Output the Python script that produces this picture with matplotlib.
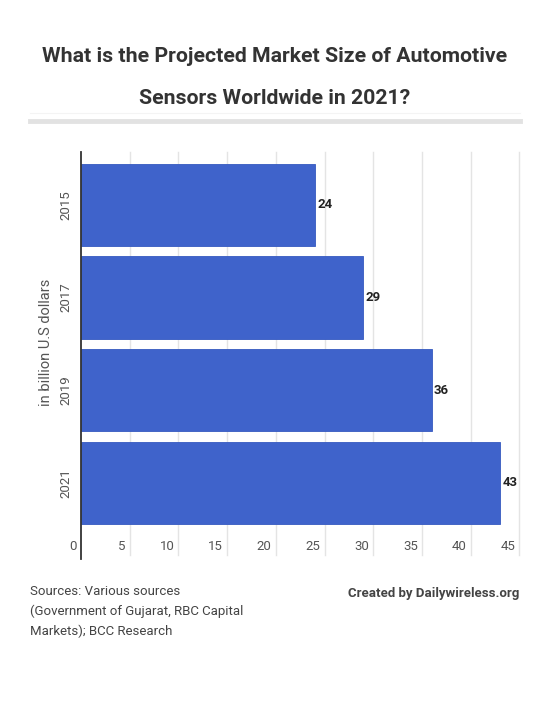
import matplotlib.pyplot as plt
import matplotlib.transforms as mtransforms
from matplotlib.lines import Line2D

# datos del grafico
years = ["2015", "2017", "2019", "2021"]
values = [24, 29, 36, 43]
xticks = [0, 5, 10, 15, 20, 25, 30, 35, 40, 45]

plt.rcParams['font.family'] = ['Roboto', 'DejaVu Sans']

fig = plt.figure(figsize=(5.5, 7.02), dpi=100)
fig.patch.set_facecolor('white')

# titulo
fig.text(0.5, 1 - 56 / 702, "What is the Projected Market Size of Automotive",
         ha='center', va='center', fontsize=15.3, fontweight='bold', color='#333333')
fig.text(0.5, 1 - 99 / 702, "Sensors Worldwide in 2021?",
         ha='center', va='center', fontsize=15.3, fontweight='bold', color='#333333')

# barra gris separadora
fig.add_artist(Line2D([30 / 550, 520 / 550], [1 - 121 / 702, 1 - 121 / 702],
                      color='#e2e2e2', linewidth=3.5, transform=fig.transFigure))
fig.add_artist(Line2D([30 / 550, 520 / 550], [1 - 113 / 702, 1 - 113 / 702],
                      color='#f4f4f4', linewidth=0.8, transform=fig.transFigure))

ax = fig.add_axes([81 / 550, 1 - 532 / 702, (519.3 - 81) / 550, 380 / 702])
pos = list(range(len(years)))
ax.barh(pos, values, height=0.89, color='#3F63CB', edgecolor='#3559c0',
        linewidth=0.6, zorder=3)
ax.set_xlim(0, 45)
ax.set_ylim(3.53, -0.57)

for s in ax.spines.values():
    s.set_visible(False)

# lineas de la cuadricula
for x in xticks[1:]:
    ax.axvline(x, ymin=-0.06, ymax=1, color='#e4e4e4', linewidth=1,
               clip_on=False, zorder=1)
ax.axvline(0, ymin=-0.07, ymax=1, color='#333333', linewidth=1.3,
           clip_on=False, zorder=4)

ax.set_xticks(xticks)
ax.set_xticklabels([str(x) for x in xticks])
ax.tick_params(axis='x', length=0, pad=6, labelsize=9.5, labelcolor='#555555')
off = mtransforms.ScaledTranslation(-4 / 100, 0, fig.dpi_scale_trans)
for lab in ax.get_xticklabels():
    lab.set_horizontalalignment('right')
    lab.set_transform(lab.get_transform() + off)

ax.set_yticks(pos)
ax.set_yticklabels(years, rotation=90, va='center')
ax.tick_params(axis='y', length=0, pad=6, labelsize=9.5, labelcolor='#555555')

ax.set_ylabel("in billion U.S dollars", fontsize=10.5, color='#555555', labelpad=5)

# etiquetas de valores
for p, v in zip(pos, values):
    ax.text(v + 0.25, p, str(v), va='center', ha='left', fontsize=9.5,
            fontweight='bold', color='#222222', zorder=5)

# pie
fig.text(30 / 550, 1 - 585 / 702,
         "Sources: Various sources\n(Government of Gujarat, RBC Capital\nMarkets); BCC Research",
         ha='left', va='top', fontsize=9.5, color='#444444', linespacing=1.65)
fig.text(519 / 550, 1 - 593 / 702, "Created by Dailywireless.org",
         ha='right', va='center', fontsize=9.5, fontweight='bold', color='#444444')

fig.savefig("out.png", dpi=100)
